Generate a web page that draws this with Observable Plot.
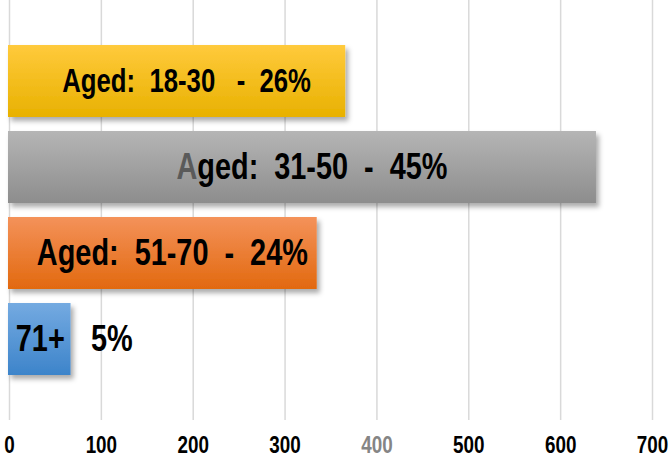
<!DOCTYPE html>
<html>
<head>
<meta charset="utf-8">
<script src="https://cdn.jsdelivr.net/npm/d3@7"></script>
<script src="https://cdn.jsdelivr.net/npm/@observablehq/plot@0.6"></script>
<style>
  body { margin: 0; background: #fff; }
  #chart svg { display: block; }
</style>
</head>
<body>
<div id="chart"></div>
<script>
const categories = ["18-30", "31-50", "51-70", "71+"];
const values = [366, 639, 335, 67];
const innerLabels = ["Aged:  18-30   -  26%", "Aged:  31-50  -  45%", "Aged:  51-70  -  24%", "71+"];
const outerLabels = ["", "", "", "5%"];
const xTicks = [0, 100, 200, 300, 400, 500, 600, 700];

// styling (kept apart from the data)
const gradTop = ["#ffca3c", "#b5b5b5", "#f4925a", "#74aae1"];
const gradBottom = ["#e8b100", "#8d8d8d", "#e2690f", "#3d84ca"];
const labelFontSize = [33, 37, 37, 37];

const data = categories.map((c, i) => ({
  cat: c, value: values[i], inner: innerLabels[i], outer: outerLabels[i], i
}));

const FONT = "'Liberation Sans', Arial, sans-serif";

const chart = Plot.plot({
  width: 672,
  height: 462,
  marginLeft: 9,
  marginRight: 20,
  marginTop: 0,
  marginBottom: 42,
  style: { fontFamily: FONT, background: "#fff", overflow: "visible" },
  x: { domain: [0, 700], label: null },
  y: { domain: categories, padding: 0.16, paddingOuter: 0.51, axis: null, label: null },
  color: { type: "ordinal", domain: categories, range: categories.map((c, i) => `url(#grad${i})`) },
  marks: [
    Plot.gridX(xTicks, { stroke: "#d9d9d9", strokeOpacity: 1, strokeWidth: 1.5 }),
    Plot.barX(data, {
      y: "cat", x1: 0, x2: "value", fill: "cat",
      insetLeft: -1,
      className: "bars"
    }),
    Plot.text(data, {
      y: "cat", x: d => d.value / 2, text: "inner",
      fontSize: d => labelFontSize[d.i], fontWeight: "bold", fill: "#000",
      textAnchor: "middle", className: "inner-lab"
    }),
    Plot.text(data.filter(d => d.outer), {
      y: "cat", x: "value", text: "outer",
      dx: 20, fontSize: d => labelFontSize[d.i], fontWeight: "bold", fill: "#000",
      textAnchor: "start", className: "outer-lab"
    }),
    Plot.axisX(xTicks, {
      tickSize: 0, tickPadding: 16, fontSize: 23, fontWeight: "bold",
      fill: d => d === 400 ? "#858585" : "#000",
      label: null
    })
  ]
});

document.getElementById("chart").appendChild(chart);

// defs for gradients and shadow
const svg = d3.select(chart);
const defs = svg.insert("defs", ":first-child");
categories.forEach((c, i) => {
  const g = defs.append("linearGradient").attr("id", `grad${i}`)
    .attr("x1", 0).attr("y1", 0).attr("x2", 0).attr("y2", 1);
  g.append("stop").attr("offset", "0%").attr("stop-color", gradTop[i]);
  g.append("stop").attr("offset", "100%").attr("stop-color", gradBottom[i]);
});
const f = defs.append("filter").attr("id", "shadow")
  .attr("x", "-10%").attr("y", "-10%").attr("width", "130%").attr("height", "140%");
f.append("feDropShadow").attr("dx", 3).attr("dy", 4).attr("stdDeviation", 2.5)
  .attr("flood-color", "#000").attr("flood-opacity", 0.33);
svg.selectAll("g.bars rect").attr("filter", "url(#shadow)");

svg.selectAll("text").style("white-space", "pre");
svg.selectAll("g.inner-lab text, g.outer-lab text").each(function () {
  const t = d3.select(this);
  const s = t.text();
  const isInner = this.parentNode.classList.contains("inner-lab");
  if (isInner) t.attr("dx", s.startsWith("71") ? 0 : 9);
  if (s.includes("31-50")) {
    t.text(null);
    t.append("tspan").attr("fill", "#5a5a5a").text(s[0]);
    t.append("tspan").text(s.slice(1));
  }
  const tr = this.getAttribute("transform") || "";
  this.setAttribute("transform", `${tr} translate(0,0)`);
});

// condense all text horizontally (Arial Narrow look)
svg.selectAll("text").each(function () {
  const bb = this.getBBox();
  const anchor = this.getAttribute("text-anchor") || (this.parentNode && this.parentNode.getAttribute("text-anchor"));
  const ax = anchor === "start" ? bb.x : bb.x + bb.width / 2;
  const isLab = this.parentNode.classList.contains("inner-lab") || this.parentNode.classList.contains("outer-lab");
  const k = isLab ? 0.78 : 0.82;
  const tr = this.getAttribute("transform") || "";
  this.setAttribute("transform", `${tr} translate(${ax},0) scale(${k},1) translate(${-ax},0)`);
});
</script>
</body>
</html>
